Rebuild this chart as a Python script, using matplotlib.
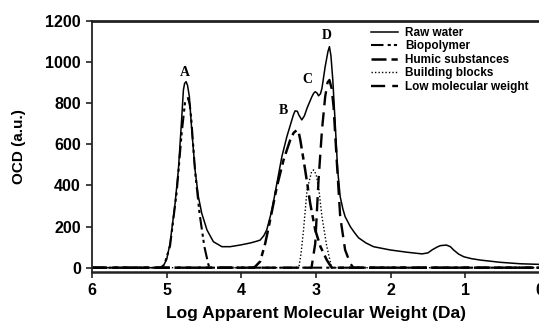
import matplotlib
matplotlib.use("Agg")
import matplotlib.pyplot as plt

# values (x = log MW, y = OCD in a.u.)
raw_x = [6.0, 5.10, 5.05, 5.0, 4.955, 4.887, 4.843, 4.80, 4.776, 4.76, 4.74, 4.72, 4.696, 4.664,
         4.62, 4.575, 4.53, 4.46, 4.374, 4.26, 4.15, 4.016, 3.88, 3.80, 3.748, 3.70, 3.66, 3.59,
         3.524, 3.457, 3.39, 3.323, 3.30, 3.28, 3.25, 3.23, 3.19, 3.155, 3.12, 3.055, 3.03, 3.01,
         2.985, 2.966, 2.94, 2.92, 2.877, 2.84, 2.82, 2.80, 2.775, 2.743, 2.71, 2.676, 2.64,
         2.61, 2.54, 2.48, 2.43, 2.33, 2.23, 2.005, 1.78, 1.58, 1.50, 1.447, 1.38, 1.335, 1.255,
         1.20, 1.157, 1.09, 1.02, 0.92, 0.80, 0.53, 0.263, 0.0]
raw_y = [0, 0, 5, 40, 118, 313, 475, 718, 863, 895, 904, 885, 831, 669,
         475, 345, 264, 183, 126, 102, 102, 110, 120, 128, 134, 155, 183, 280,
         410, 540, 637, 718, 745, 762, 760, 742, 718, 738, 775, 831, 848, 855,
         848, 835, 845, 872, 977, 1050, 1074, 1030, 912, 702, 475, 345, 285,
         248, 199, 168, 145, 120, 102, 86, 75, 67, 72, 86, 100, 107, 110,
         102, 86, 66, 53, 44, 37, 26, 19, 16]

bio_x = [6.0, 5.08, 5.03, 4.955, 4.865, 4.80, 4.755, 4.73, 4.713, 4.69, 4.67, 4.62, 4.56, 4.495,
         4.44, 4.41, 0.0]
bio_y = [0, 0, 15, 105, 370, 650, 800, 820, 824, 790, 720, 470, 264, 102, 13, 0, 0]

hum_x = [6.0, 3.84, 3.815, 3.748, 3.68, 3.614, 3.524, 3.435, 3.346, 3.30, 3.256, 3.23, 3.21,
         3.145, 3.078, 3.01, 2.94, 2.855, 2.79, 0.0]
hum_y = [0, 0, 5, 30, 118, 232, 394, 523, 620, 655, 669, 655, 620, 475, 313, 183, 102, 37, 0, 0]

bb_x = [6.0, 3.23, 3.20, 3.167, 3.12, 3.06, 3.033, 3.00, 2.966, 2.92, 2.855, 2.79, 0.0]
bb_y = [0, 0, 70, 183, 378, 465, 475, 455, 394, 248, 102, 0, 0]

lmw_x = [6.0, 3.06, 3.01, 2.966, 2.92, 2.877, 2.845, 2.82, 2.79, 2.765, 2.72, 2.676, 2.61,
         2.54, 2.50, 0.0]
lmw_y = [0, 0, 118, 426, 669, 831, 900, 912, 870, 782, 507, 248, 86, 20, 0, 0]

peak_names = ["A", "B", "C", "D"]
peak_x = [4.75, 3.43, 3.12, 2.85]
peak_y = [950, 765, 915, 1130]

xticks = [6, 5, 4, 3, 2, 1, 0]
yticks = [0, 200, 400, 600, 800, 1000, 1200]

plt.rcParams["font.family"] = ["Liberation Sans", "DejaVu Sans"]

fig = plt.figure(figsize=(5.39, 3.24), dpi=100)
ax = fig.add_axes([92 / 539, 52 / 324, 448 / 539, 251.3 / 324])

ax.plot(raw_x, raw_y, color="black", lw=1.1, label="Raw water")
ax.plot(bio_x, bio_y, color="black", lw=1.5, ls=(0, (6, 2, 1.5, 1.5, 1.5, 2)), label="Biopolymer")
ax.plot(hum_x, hum_y, color="black", lw=1.8, ls=(0, (6, 2, 2.5, 2)), label="Humic substances")
ax.plot(bb_x, bb_y, color="black", lw=1.0, ls=(0, (1, 1.5)), label="Building blocks")
ax.plot(lmw_x, lmw_y, color="black", lw=1.7, ls=(0, (6, 3)), label="Low molecular weight")

for name, px, py in zip(peak_names, peak_x, peak_y):
    ax.text(px, py, name, family="Liberation Serif", weight="bold", fontsize=10,
            ha="center", va="center")

ax.set_xlim(6, 0)
ax.set_ylim(-21, 1200)
ax.set_xticks(xticks)
ax.set_yticks(yticks)
ax.tick_params(direction="out", length=4, width=1.2, labelsize=11.5, pad=4, colors="#222222")
for lab in ax.get_xticklabels() + ax.get_yticklabels():
    lab.set_fontweight("bold")
    lab.set_color("black")

ax.spines["right"].set_visible(False)
ax.spines["left"].set_linewidth(1.3)
ax.spines["bottom"].set_linewidth(1.8)
ax.spines["top"].set_linewidth(2.0)
for s in ["left", "bottom", "top"]:
    ax.spines[s].set_color("#222222")

ax.set_xlabel("Log Apparent Molecular Weight (Da)", fontsize=12.5, weight="bold", labelpad=6)
ax.set_ylabel("OCD (a.u.)", fontsize=11, weight="bold", labelpad=14)

ax.legend(loc="upper left", bbox_to_anchor=(371 / 539, (324 - 27) / 324),
          bbox_transform=fig.transFigure, frameon=False,
          prop={"weight": "bold", "size": 8.5}, handlelength=2.3, handletextpad=0.6,
          labelspacing=0.12, borderpad=0, borderaxespad=0)

fig.savefig("out.png", dpi=100)
